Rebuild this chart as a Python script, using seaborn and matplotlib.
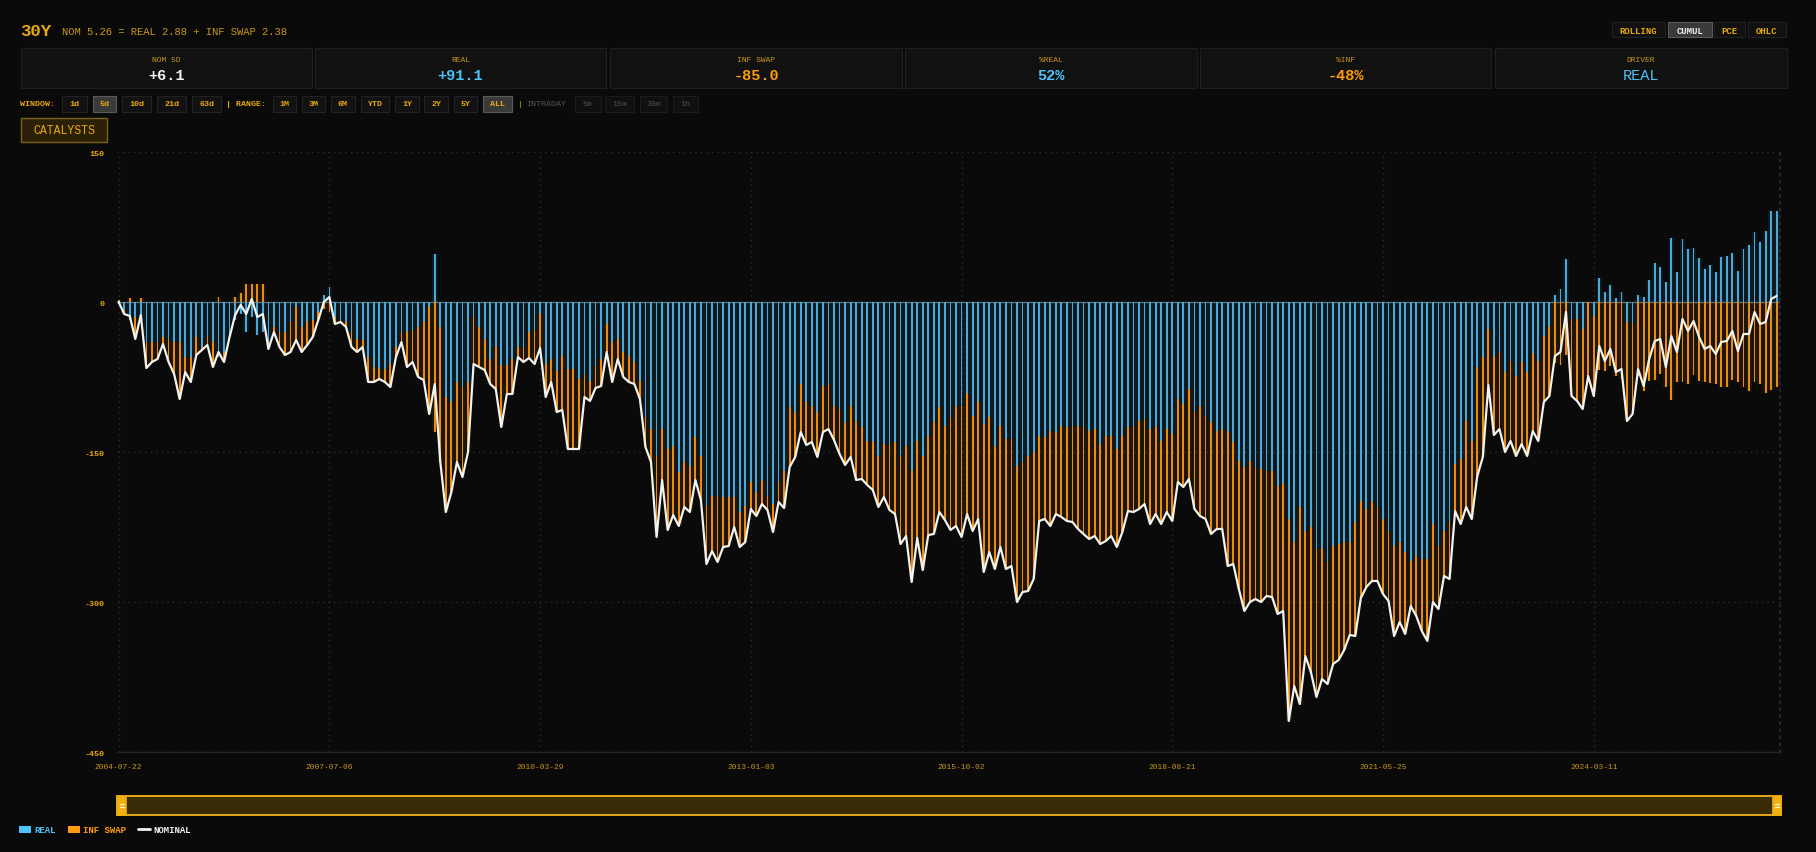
import numpy as np
import matplotlib.pyplot as plt
import seaborn as sns
from matplotlib.patches import Rectangle, Patch
from matplotlib.lines import Line2D

# canvas in pixels (saved at dpi=100)
W, H = 1816, 853

BG = "#0a0a0a"
GOLD = "#e8a814"
GOLD_DIM = "#c8951c"
BLUE = "#4fc3f7"
BAR_BLUE = "#48aadb"
ORANGE = "#ff9a12"
BAR_ORANGE = "#ea8c10"
WHITE = "#f2f2ee"

tenor = "30Y"
header = "NOM 5.26 = REAL 2.88 + INF SWAP 2.38"
tick_labels = ["2004-07-22", "2007-07-06", "2010-03-29", "2013-01-03",
               "2015-10-02", "2018-08-21", "2021-05-25", "2024-03-11"]
tick_every = 38
y_ticks = [150, 0, -150, -300, -450]

# cumulative change, bp
real_bp = [
    -2, -8, -18, -15, -17, -40, -40, -40, -35, -38,
    -40, -40, -55, -55, -35, -45, -35, -40, -55, -50,
    -35, -18, -12, -30, -15, -33, -30, -40, -25, -30,
    -30, -20, -5, -25, -20, -18, -10, 7, 15, -15,
    -18, -20, -30, -37, -38, -55, -65, -67, -67, -62,
    -45, -30, -30, -28, -25, -20, -5, 48, -25, -95,
    -100, -80, -85, -80, -15, -25, -37, -57, -45, -63,
    -63, -57, -45, -45, -30, -28, -12, -62, -57, -69,
    -54, -67, -67, -77, -72, -79, -64, -57, -22, -40,
    -37, -50, -54, -60, -79, -115, -127, -154, -127, -147,
    -144, -170, -160, -164, -135, -154, -204, -194, -194, -195,
    -195, -195, -210, -204, -180, -190, -179, -194, -202, -180,
    -169, -105, -110, -82, -100, -104, -110, -84, -82, -104,
    -107, -120, -104, -119, -125, -139, -140, -154, -142, -142,
    -140, -154, -144, -169, -139, -154, -134, -120, -105, -124,
    -115, -104, -104, -92, -114, -100, -122, -115, -144, -124,
    -137, -137, -164, -160, -154, -150, -134, -135, -129, -130,
    -124, -125, -124, -124, -125, -129, -127, -142, -134, -134,
    -147, -134, -125, -124, -119, -117, -127, -125, -139, -127,
    -132, -97, -102, -87, -109, -104, -114, -120, -129, -127,
    -130, -140, -159, -165, -159, -165, -167, -169, -169, -184,
    -182, -217, -240, -205, -229, -225, -247, -246, -260, -244,
    -242, -240, -240, -220, -199, -207, -200, -205, -217, -229,
    -244, -240, -250, -259, -254, -257, -257, -222, -244, -229,
    -219, -162, -157, -119, -139, -65, -55, -27, -54, -50,
    -70, -59, -74, -60, -70, -52, -59, -34, -24, 7,
    13, 43, -17, -17, -27, 0, -14, 24, 10, 17,
    4, 10, -20, -22, 7, 5, 22, 39, 35, 20,
    64, 30, 63, 53, 54, 44, 33, 37, 30, 45,
    46, 49, 31, 53, 57, 70, 60, 71, 91, 91.1,
]

nominal_bp = [
    0, -12, -14, -37, -13, -66, -60, -57, -42, -60,
    -72, -97, -70, -80, -53, -48, -43, -65, -50, -60,
    -35, -13, -3, -12, 3, -15, -12, -47, -30, -45,
    -53, -50, -38, -50, -43, -35, -18, 0, 5, -22,
    -20, -25, -45, -50, -45, -80, -80, -77, -80, -85,
    -55, -40, -65, -60, -75, -78, -112, -82, -160, -210,
    -190, -160, -175, -150, -62, -65, -68, -82, -87, -125,
    -92, -92, -55, -60, -56, -62, -46, -95, -80, -110,
    -108, -147, -147, -147, -95, -99, -86, -84, -50, -80,
    -57, -75, -80, -82, -97, -145, -160, -235, -178, -228,
    -213, -224, -205, -210, -178, -198, -262, -249, -260, -245,
    -244, -225, -245, -240, -207, -214, -202, -208, -230, -200,
    -206, -165, -155, -130, -143, -140, -155, -130, -127, -138,
    -152, -163, -155, -178, -177, -183, -188, -205, -195, -208,
    -212, -242, -234, -280, -236, -268, -233, -232, -210, -218,
    -228, -224, -235, -212, -229, -217, -270, -250, -267, -245,
    -267, -264, -300, -290, -289, -277, -219, -217, -224, -212,
    -215, -219, -220, -227, -232, -237, -234, -242, -239, -234,
    -245, -230, -209, -210, -207, -202, -222, -212, -222, -210,
    -219, -180, -185, -177, -207, -214, -217, -232, -227, -227,
    -264, -262, -287, -309, -300, -297, -300, -294, -295, -312,
    -309, -419, -384, -402, -354, -370, -395, -377, -382, -362,
    -358, -348, -333, -334, -296, -285, -279, -279, -292, -299,
    -334, -320, -332, -304, -314, -329, -339, -300, -307, -274,
    -277, -209, -222, -205, -217, -174, -155, -83, -133, -127,
    -150, -139, -154, -142, -154, -129, -139, -100, -94, -54,
    -50, -10, -94, -99, -107, -74, -94, -44, -59, -47,
    -70, -67, -119, -112, -67, -84, -57, -39, -37, -65,
    -34, -50, -17, -29, -19, -35, -47, -44, -52, -40,
    -39, -29, -49, -32, -32, -10, -22, -20, 3, 6.1,
]

window_buttons = ["1d", "5d", "10d", "21d", "63d"]
range_buttons = ["1M", "3M", "6M", "YTD", "1Y", "2Y", "5Y", "ALL"]
intraday_buttons = ["5m", "15m", "30m", "1h"]
mode_buttons = ["ROLLING", "CUMUL", "PCE", "OHLC"]

real = np.array(real_bp, dtype=float)
nominal = np.array(nominal_bp, dtype=float)
inf_swap = nominal - real          # NOM = REAL + INF SWAP
idx = np.arange(len(real))
# relative stacking: same-sign parts stack, opposite signs start at 0
inf_bottom = np.where(np.sign(inf_swap) == np.sign(real), real, 0.0)

sns.set_theme(style="dark")
plt.rcParams["font.family"] = ["Liberation Mono", "DejaVu Sans Mono"]

fig = plt.figure(figsize=(W / 100, H / 100), dpi=100, facecolor=BG)


def fx(px):
    return px / W


def fy(py):
    return 1 - py / H


def box(x0, y0, x1, y1, face, edge, lw=1.0):
    fig.add_artist(Rectangle((fx(x0), fy(y1)), fx(x1 - x0), (y1 - y0) / H,
                             facecolor=face, edgecolor=edge, linewidth=lw))


def label(x, y, s, color=GOLD, size=6, weight="normal", ha="center"):
    fig.text(fx(x), fy(y), s, color=color, fontsize=size, fontweight=weight,
             ha=ha, va="center")


# ---- header
label(20, 32, tenor, color=GOLD, size=12.5, weight="bold", ha="left")
label(62, 32, header, color=GOLD_DIM, size=7.6, ha="left")

# mode toggles (top right)
mode_x = [(1612, 1665), (1668, 1712), (1714, 1745), (1748, 1786)]
for name, (x0, x1) in zip(mode_buttons, mode_x):
    active = name == "CUMUL"
    box(x0, 23, x1, 38, "#3a3a3a" if active else "#111111",
        "#5a5a5a" if active else "#222222", 0.8)
    label((x0 + x1) / 2, 31, name, color="#f0f0f0" if active else GOLD,
          size=6.4, weight="bold")

# ---- stat cards
r_last, i_last, n_last = real[-1], inf_swap[-1], nominal[-1]
tot = abs(r_last) + abs(i_last)
pct_real = 100 * abs(r_last) / tot * np.sign(r_last)
pct_inf = 100 * abs(i_last) / tot * np.sign(i_last)
driver = "REAL" if abs(r_last) >= abs(i_last) else "INF SWAP"
cards = [
    ("NOM 5D", f"{n_last:+.1f}", WHITE, "bold"),
    ("REAL", f"{r_last:+.1f}", BLUE, "bold"),
    ("INF SWAP", f"{i_last:+.1f}", ORANGE, "bold"),
    ("%REAL", f"{pct_real:.0f}%", BLUE, "bold"),
    ("%INF", f"{pct_inf:.0f}%", ORANGE, "bold"),
    ("DRIVER", driver, BLUE, "normal"),
]
card_x = [(21, 312), (315, 606), (610, 902), (905, 1197), (1200, 1491), (1495, 1787)]
for (title, val, col, wt), (x0, x1) in zip(cards, card_x):
    box(x0, 49, x1, 89, "#111111", "#1f1f1f", 0.8)
    label((x0 + x1) / 2, 61, title, color=GOLD_DIM, size=5.8)
    label((x0 + x1) / 2, 76, val, color=col, size=11, weight=wt)

# ---- window / range / intraday row
label(20, 105, "WINDOW:", color=GOLD, size=6, weight="bold", ha="left")
win_x = [(62, 87), (93, 116), (122, 151), (157, 186), (192, 221)]
for name, (x0, x1) in zip(window_buttons, win_x):
    active = name == "5d"
    box(x0, 97, x1, 113, "#3a3a3a" if active else "#121212",
        "#5a5a5a" if active else "#222222", 0.8)
    label((x0 + x1) / 2, 105, name, color=GOLD, size=6, weight="bold")
label(226, 105, "| RANGE:", color=GOLD, size=6, weight="bold", ha="left")
rng_x = [(273, 296), (302, 325), (331, 355), (361, 389), (395, 419),
         (424, 448), (454, 477), (483, 512)]
for name, (x0, x1) in zip(range_buttons, rng_x):
    active = name == "ALL"
    box(x0, 97, x1, 113, "#3a3a3a" if active else "#121212",
        "#5a5a5a" if active else "#222222", 0.8)
    label((x0 + x1) / 2, 105, name, color=GOLD, size=6, weight="bold")
label(518, 105, "|", color=GOLD, size=6, ha="left")
label(526, 105, "INTRADAY", color="#555555", size=6, ha="left")
intra_x = [(575, 601), (605, 634), (640, 667), (673, 698)]
for name, (x0, x1) in zip(intraday_buttons, intra_x):
    box(x0, 97, x1, 113, "#101010", "#1c1c1c", 0.8)
    label((x0 + x1) / 2, 105, name, color="#4e4e4e", size=6)

# catalysts toggle
box(21, 119, 107, 143, "#2a2108", "#7c6118", 1.0)
label(64, 131, "CATALYSTS", color=GOLD, size=8.3)

# ---- main chart
ax = fig.add_axes([fx(117), fy(753), fx(1779.5 - 117), (753 - 153) / H])
ax.set_facecolor(BG)

ax.hlines(0, idx[0] - 0.4, idx[-1] + 0.4, color="#5d6f7a", linewidth=0.9,
          zorder=1.5)
# faint full-width fill behind each thin bar
ax.bar(idx, real, width=1.0, color=BAR_BLUE, alpha=0.09, linewidth=0, zorder=1.8)
ax.bar(idx, inf_swap, bottom=inf_bottom, width=1.0, color=BAR_ORANGE,
       alpha=0.09, linewidth=0, zorder=1.8)
ax.bar(idx, real, width=0.32, color=BAR_BLUE, linewidth=0, zorder=2)
ax.bar(idx, inf_swap, bottom=inf_bottom, width=0.32, color=BAR_ORANGE,
       linewidth=0, zorder=2)
sns.lineplot(x=idx, y=nominal, ax=ax, color=WHITE, linewidth=1.6,
             zorder=4, legend=False)

ax.set_xlim(-0.3, len(idx) - 0.5)
ax.set_ylim(y_ticks[-1], y_ticks[0])
ax.set_yticks(y_ticks)
ax.set_yticklabels([str(v) for v in y_ticks])
ax.set_xticks(idx[::tick_every])
ax.set_xticklabels(tick_labels)
ax.set_xlabel("")
ax.set_ylabel("")

ax.grid(True, color="#2c2c2c", linestyle=(0, (1, 3)), linewidth=1.0)
ax.set_axisbelow(True)
for side in ["top", "left"]:
    ax.spines[side].set_visible(False)
ax.spines["bottom"].set_color("#262626")
ax.spines["bottom"].set_linewidth(1.0)
ax.spines["right"].set_color("#2c2c2c")
ax.spines["right"].set_linestyle((0, (1, 3)))

ax.tick_params(axis="y", length=0, pad=9, labelsize=6, labelcolor=GOLD)
ax.tick_params(axis="x", length=0, pad=8, labelsize=5.7, labelcolor=GOLD_DIM)
for t in ax.get_yticklabels():
    t.set_fontweight("bold")

# ---- range slider
box(117, 797, 1781, 816, "#3a2b07", "#e6a817", 1.4)
for x0 in (117, 1772):
    box(x0, 797, x0 + 9, 816, "#f0b012", "#f0b012", 0.5)
    for yy in (805, 808):
        fig.add_artist(Line2D([fx(x0 + 2.5), fx(x0 + 6.5)], [fy(yy), fy(yy)],
                              color="#fff4d0", linewidth=0.9))

# ---- legend
handles = [
    Patch(facecolor=BLUE, edgecolor="none", label="REAL"),
    Patch(facecolor=ORANGE, edgecolor="none", label="INF SWAP"),
    Line2D([0], [0], color=WHITE, linewidth=2, label="NOMINAL"),
]
leg = fig.legend(handles=handles, loc="center left",
                 bbox_to_anchor=(fx(19), fy(831)), ncol=3, frameon=False,
                 fontsize=6.5, handlelength=1.35, handleheight=0.8,
                 handletextpad=0.35, columnspacing=1.3, borderpad=0,
                 borderaxespad=0)
for txt, col in zip(leg.get_texts(), [BLUE, ORANGE, WHITE]):
    txt.set_color(col)
    txt.set_fontweight("bold")

fig.savefig("out.png", dpi=100, facecolor=BG)
